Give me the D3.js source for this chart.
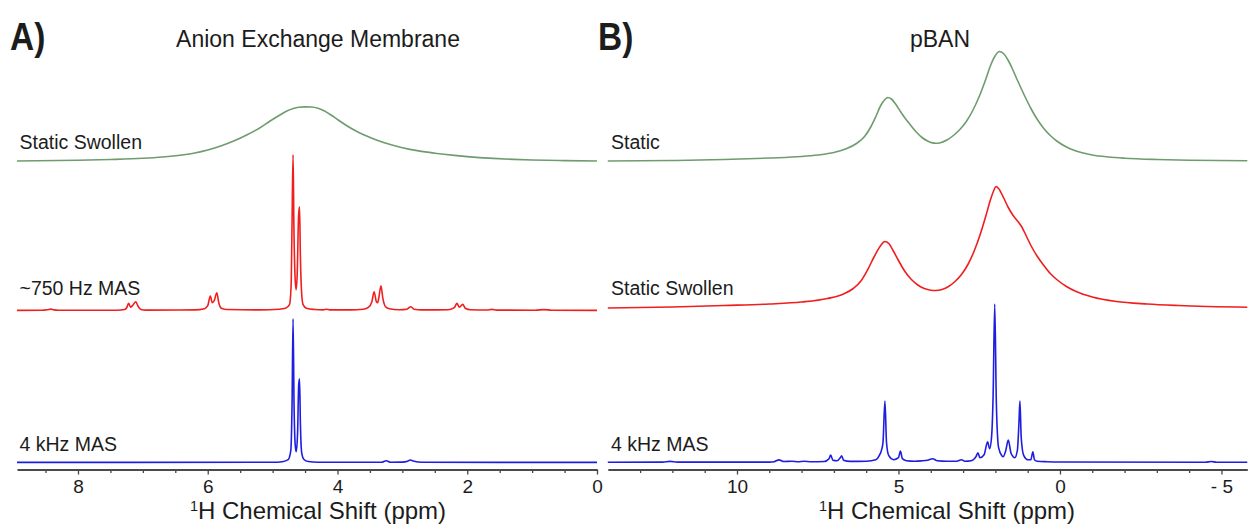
<!DOCTYPE html>
<html><head><meta charset="utf-8">
<script src="https://cdn.jsdelivr.net/npm/d3@7/dist/d3.min.js"></script>
<style>
body{margin:0;background:#fff}
svg{display:block}
text{font-family:"Liberation Sans",Arial,Helvetica,sans-serif;fill:#1c1c1c}
</style>
</head><body>
<svg id="chart" width="1248" height="527"></svg>
<script>
// ---------------- DATA (ppm, intensity above own baseline) ----------------
const panelTitles = ["Anion Exchange Membrane", "pBAN"];
const panelLetters = ["A)", "B)"];
const axisTitle = "Chemical Shift (ppm)";

const labelsA = ["Static Swollen", "~750 Hz MAS", "4 kHz MAS"];
const labelsB = ["Static", "Static Swollen", "4 kHz MAS"];

const ticksMajorA = [8, 6, 4, 2, 0];
const ticksMinorA = [8.5, 7.5, 7, 6.5, 5.5, 5, 4.5, 3.5, 3, 2.5, 1.5, 1, 0.5];
const tickLabelsA = ["8", "6", "4", "2", "0"];
const ticksMajorB = [10, 5, 0, -5];
const ticksMinorB = [13, 12, 11, 9, 8, 7, 6, 4, 3, 2, 1, -1, -2, -3, -4];
const tickLabelsB = ["10", "5", "0", "- 5"];

const offsetsA = [308.5, 159.3, 7.3];
const offsetsB = [308.5, 160.5, 7.3];

const staticSwollenA = [[8.94,0.5],[8.0,1.2],[7.5,2],[7.0,3.2],[6.7,4.5],[6.4,6.5],[6.2,8.5],[6.0,11.5],[5.8,15.5],[5.6,20.5],[5.4,26.5],[5.2,33.5],[5.05,40],[4.9,46],[4.78,50.5],[4.68,53],[4.6,54.2],[4.5,54.6],[4.4,54.5],[4.3,53.2],[4.2,50.5],[4.1,46.5],[4.0,42],[3.85,35.5],[3.7,30],[3.55,25.5],[3.4,21.5],[3.2,17.2],[3.0,13.8],[2.75,10.6],[2.5,8.3],[2.2,6.1],[2.0,4.9],[1.6,3.1],[1.28,2.1],[1.0,1.5],[0.5,0.9],[0.0,0.5]];

const mas750A = [[8.94,0.3],[8.55,0.4],[8.47,1.0],[8.42,1.6],[8.37,0.8],[8.3,0.4],
 [7.4,0.5],[7.28,1.2],[7.25,3],[7.22,7.3],[7.19,3.5],[7.16,5],[7.11,9],[7.07,4],[7.03,1.2],[6.95,0.6],
 [6.2,0.8],[6.05,2],[6.0,5],[5.96,14.7],[5.93,8],[5.9,10],[5.86,18],[5.83,8],[5.79,2.5],[5.7,1.2],
 [5.2,0.8],[4.9,1.5],[4.8,2.5],[4.74,6],[4.715,25],[4.70,90],[4.685,156],[4.672,85],[4.655,35],[4.638,21],[4.62,38],[4.60,95],[4.585,104],[4.572,55],[4.553,18],[4.53,6],[4.48,2.5],[4.35,1.2],[4.22,0.8],[4.17,1.5],[4.12,0.8],[3.8,0.8],
 [3.6,1.5],[3.52,3.5],[3.47,9],[3.436,19],[3.40,9],[3.38,8],[3.36,14],[3.33,25],[3.30,12],[3.26,4],[3.2,2],[3.05,1],[2.93,1.5],[2.87,4],[2.82,1.5],[2.7,0.8],
 [2.3,0.9],[2.2,3],[2.16,7.3],[2.12,3.5],[2.07,6.3],[2.03,2.5],[1.95,1],[1.7,0.7],[1.62,1.3],[1.55,0.6],[0.95,0.5],[0.82,1.1],[0.7,0.5],[0.0,0.3]];

const mas4kA = [[8.94,0.3],[5.0,0.4],[4.85,1],[4.76,3],[4.72,12],[4.70,60],[4.685,144],[4.67,60],[4.652,18],[4.636,11],[4.615,30],[4.598,78],[4.585,84],[4.572,40],[4.552,10],[4.52,3.5],[4.45,1.2],[4.3,0.5],[3.32,0.5],[3.25,2],[3.18,0.5],[3.0,0.6],[2.92,1.5],[2.88,2.7],[2.82,1.5],[2.7,0.5],[0,0.3]];

const staticB = [[14,0.5],[12,1],[10.4,2],[9,3.5],[8,5],[7.5,6.5],[7.0,9],[6.6,13],[6.3,18],[6.05,25],[5.85,35],[5.7,45],[5.55,56],[5.42,62],[5.33,64],[5.22,62.5],[5.1,58],[4.95,50.5],[4.8,43.5],[4.64,37],[4.45,29.5],[4.27,24],[4.1,20.5],[3.95,18.6],[3.85,18.2],[3.7,18.8],[3.5,21.5],[3.3,26],[3.1,32],[2.9,40],[2.7,51],[2.5,65],[2.3,82],[2.15,96],[2.0,106],[1.88,110],[1.75,108],[1.6,101],[1.45,91],[1.3,80],[1.1,66],[0.9,53],[0.7,42],[0.5,33],[0.3,26],[0.1,20.5],[-0.2,14.5],[-0.5,10.5],[-1.0,6.5],[-1.5,4.5],[-2.0,3.3],[-3.0,2],[-4.0,1.3],[-5.8,0.8]];

const staticSwollenB = [[14,1.5],[12,2.5],[10.4,4],[9,5.5],[8,7.5],[7.2,11],[6.7,15.5],[6.4,21],[6.15,29],[5.95,40],[5.75,53],[5.55,64],[5.42,68],[5.3,66],[5.15,58],[5.0,49],[4.8,38],[4.6,30],[4.4,24.5],[4.2,21],[4.0,19.3],[3.85,19],[3.65,20],[3.45,23],[3.25,28],[3.05,35],[2.85,45],[2.65,59],[2.45,77],[2.3,93],[2.15,110],[2.05,119],[1.98,123],[1.9,121],[1.75,112],[1.6,102],[1.45,94],[1.3,88],[1.19,83],[1.05,74],[0.9,64],[0.7,53],[0.5,44],[0.3,36],[0.1,30],[-0.2,23],[-0.5,18],[-1.0,12.5],[-1.75,8],[-2.7,5.5],[-3.67,4],[-5.8,2.2]];

const mas4kB = [[14,0.5],[12.3,0.6],[12.07,1.3],[11.85,0.6],[9.0,0.6],[8.85,1],[8.7,2.8],[8.55,1.2],[8.3,1.5],[8.1,1],[7.93,1.5],[7.7,1],[7.3,1.2],[7.15,4],[7.1,7.7],[7.03,2.5],[6.9,2],[6.8,5],[6.76,7],[6.7,2.5],[6.5,1.3],[6.0,1.5],[5.7,3],[5.58,8],[5.54,11],[5.48,20],[5.42,61.7],[5.37,20],[5.3,7],[5.15,3],[5.0,5],[4.94,11.7],[4.88,4],[4.75,2],[4.5,1.5],[4.3,1.8],[4.1,2.5],[3.94,4],[3.8,2],[3.5,1.5],[3.2,1.5],[3.05,3],[2.95,1.5],[2.75,2],[2.6,6],[2.54,10],[2.48,5],[2.35,8],[2.24,21],[2.18,14],[2.12,25],[2.07,67],[2.02,158.7],[1.97,60],[1.9,15],[1.8,7],[1.76,6],[1.68,12],[1.6,22.7],[1.52,10],[1.45,6],[1.4,5],[1.32,12],[1.27,40],[1.24,61.7],[1.2,25],[1.12,7],[1.0,3],[0.9,3],[0.84,11],[0.79,3],[0.7,1.5],[0.4,1],[0,0.7],[-4.5,0.5],[-4.69,1.2],[-4.85,0.5],[-5.8,0.4]];

const seriesColors = ["#6e9c6e", "#f01e1e", "#1e1ee0"];

// ---------------- DRAWING ----------------
const svg = d3.select("#chart");
const y = d3.scaleLinear().domain([0, 460]).range([470, 10]);
const xA = d3.scaleLinear().domain([8.94, 0]).range([17, 597]);
const xB = d3.scaleLinear().domain([14, -5.8]).range([607.8, 1247.3]);
const axisY = 469.5;

function drawPanel(x, spectra, offsets, labels, labelX, majors, minors, tickLabels, title, pos, letter, letterX) {
  const g = svg.append("g");
  spectra.forEach((s, i) => {
    const line = d3.line()
      .x(d => x(d[0]))
      .y(d => y(d[1] + offsets[i]))
      .curve(d3.curveMonotoneX);
    g.append("path").datum(s)
      .attr("d", line)
      .attr("fill", "none")
      .attr("stroke", seriesColors[i])
      .attr("stroke-width", 1.6)
      .attr("stroke-linejoin", "round");
  });
  const labelBase = [149, 295, 450.5];
  labels.forEach((t, i) => {
    g.append("text").attr("x", labelX).attr("y", labelBase[i])
      .attr("font-size", 19.5).text(t);
  });
  const minorAxis = d3.axisBottom(x).tickValues(minors).tickSize(3.5).tickFormat("");
  const ma = g.append("g").attr("transform", `translate(0,${axisY})`).call(minorAxis);
  ma.select(".domain").remove();
  ma.selectAll("line").attr("stroke", "#444").attr("stroke-width", 1.3);
  const majorAxis = d3.axisBottom(x).tickValues(majors).tickSize(5).tickSizeOuter(0).tickPadding(5.2)
    .tickFormat((d, i) => tickLabels[i]);
  const mj = g.append("g").attr("transform", `translate(0,${axisY})`).call(majorAxis);
  mj.select(".domain").attr("stroke", "#4a4a4a").attr("stroke-width", 2);
  mj.selectAll("line").attr("stroke", "#444").attr("stroke-width", 1.3);
  mj.selectAll("text").attr("font-size", 19).attr("fill", "#1c1c1c")
    .attr("font-family", '"Liberation Sans",Arial,sans-serif');
  const at = g.append("text").attr("x", pos.axis).attr("y", 519).attr("text-anchor", "middle").attr("font-size", 24);
  at.append("tspan").attr("font-size", 14.5).attr("dy", -8.5).text("1");
  at.append("tspan").attr("dy", 8.5).text("H " + axisTitle);
  g.append("text").attr("x", pos.title).attr("y", 46.5).attr("text-anchor", "middle")
    .attr("font-size", 23).text(title);
  g.append("text").attr("x", letterX).attr("y", 50).attr("font-size", 38)
    .attr("font-weight", "bold").attr("transform", `translate(${letterX},0) scale(0.88,1) translate(${-letterX},0)`)
    .attr("fill", "#000").text(letter);
}

drawPanel(xA, [staticSwollenA, mas750A, mas4kA], offsetsA, labelsA, 19.5,
  ticksMajorA, ticksMinorA, tickLabelsA, panelTitles[0], {axis: 318, title: 318}, panelLetters[0], 10);
drawPanel(xB, [staticB, staticSwollenB, mas4kB], offsetsB, labelsB, 611,
  ticksMajorB, ticksMinorB, tickLabelsB, panelTitles[1], {axis: 947, title: 940}, panelLetters[1], 598);
</script>
</body></html>
